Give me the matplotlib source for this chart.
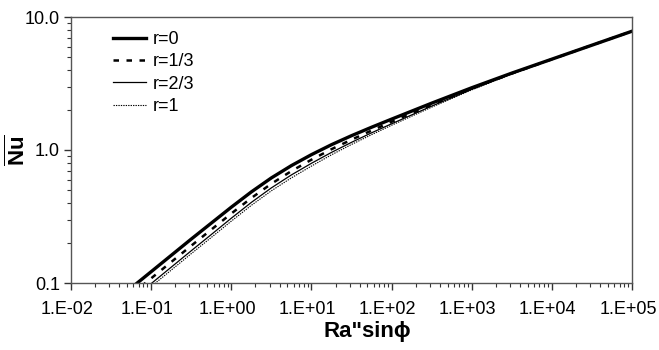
import math
import matplotlib
matplotlib.use("Agg")
import matplotlib.pyplot as plt
import matplotlib.transforms as mtransforms
from matplotlib.ticker import LogLocator, FixedLocator, FuncFormatter, NullFormatter

plt.rcParams['font.family'] = ['Liberation Sans', 'DejaVu Sans']
plt.rcParams['mathtext.fontset'] = 'custom'
plt.rcParams['mathtext.rm'] = 'Liberation Sans'
plt.rcParams['mathtext.bf'] = 'Liberation Sans:bold'

# Ra"sin(phi) sample points
ra = [0.0316, 0.1, 0.316, 0.562, 1, 1.78, 3.16, 5.62, 10, 17.8, 31.6, 56.2,
      100, 316, 1000, 3160, 1e4, 3.16e4, 1e5]

# mean Nusselt number
nu_r0 = [0.0692, 0.1216, 0.2138, 0.2818, 0.3715, 0.4842, 0.6166, 0.7631, 0.9226,
         1.0965, 1.2809, 1.4825, 1.7061, 2.2491, 2.9376, 3.7844, 4.8195, 6.1376, 7.8163]
nu_r13 = [0.0617, 0.1084, 0.1905, 0.2518, 0.3327, 0.4355, 0.5572, 0.6941, 0.8453,
          1.0139, 1.1952, 1.3996, 1.6293, 2.1878, 2.8973, 3.7584, 4.8084, 6.1376, 7.8163]
nu_r23 = [0.0562, 0.0989, 0.1746, 0.2312, 0.3069, 0.4036, 0.5188, 0.6494, 0.7943,
          0.9594, 1.1416, 1.3459, 1.5740, 2.1380, 2.8576, 3.7411, 4.7973, 6.1376, 7.8163]
nu_r1 = [0.0535, 0.0940, 0.1660, 0.2198, 0.2917, 0.3837, 0.4932, 0.6172, 0.7568,
         0.9204, 1.1003, 1.3032, 1.5346, 2.0989, 2.8314, 3.7239, 4.7863, 6.1376, 7.8163]

labels = ['r=0', 'r=1/3', 'r=2/3', 'r=1']
xticks = [1e-2, 1e-1, 1e0, 1e1, 1e2, 1e3, 1e4, 1e5]
yticks = [0.1, 1, 10]

fig = plt.figure(figsize=(6.59, 3.50), dpi=100)
ax = fig.add_axes([71/659, 67/350, 561/659, 266/350])

ax.plot(ra, nu_r0, color='black', lw=2.4, label=labels[0])
ax.plot(ra, nu_r13, color='black', lw=1.8, dashes=(2.2, 3.0), label=labels[1])
ax.plot(ra, nu_r23, color='black', lw=0.9, label=labels[2])
ax.plot(ra, nu_r1, color='black', lw=0.8, dashes=(1.2, 1.0), label=labels[3])

ax.set_xscale('log')
ax.set_yscale('log')
ax.set_xlim(1e-2, 1e5)
ax.set_ylim(0.1, 10)

ax.xaxis.set_major_locator(FixedLocator(xticks))
ax.xaxis.set_minor_locator(LogLocator(base=10, subs=range(2, 10), numticks=100))
ax.xaxis.set_major_formatter(FuncFormatter(lambda v, p: '1.E%+03d' % round(math.log10(v))))
ax.xaxis.set_minor_formatter(NullFormatter())

ax.yaxis.set_major_locator(FixedLocator(yticks))
ax.yaxis.set_minor_locator(LogLocator(base=10, subs=range(2, 10), numticks=100))
ax.yaxis.set_major_formatter(FuncFormatter(lambda v, p: '%.1f' % v))
ax.yaxis.set_minor_formatter(NullFormatter())

for s in ax.spines.values():
    s.set_color('#555555')
    s.set_linewidth(1.0)
ax.tick_params(which='major', direction='out', length=5, width=1, color='#333333',
               labelsize=13, pad=3)
ax.tick_params(axis='x', which='major', pad=8)
ax.tick_params(which='minor', direction='out', length=3, width=0.8, color='#333333')

# nudge x tick labels a bit to the left, as in the original
shift = mtransforms.ScaledTranslation(-4/100, 0, fig.dpi_scale_trans)
for lbl in ax.get_xticklabels():
    lbl.set_transform(lbl.get_transform() + shift)

ax.set_xlabel('Ra"sin\u03d5', fontsize=16, fontweight='bold')
ax.xaxis.set_label_coords(0.528, -0.142)
ax.set_ylabel(r'$\overline{\mathbf{Nu}}$', fontsize=16)
ax.yaxis.set_label_coords(-0.072, 0.5)

leg = ax.legend(loc='upper left', bbox_to_anchor=(0.075, 0.948), frameon=False,
                fontsize=13, handlelength=1.8, handletextpad=0.4,
                labelspacing=0.3, borderpad=0, borderaxespad=0)

fig.savefig('out.png', dpi=100)
